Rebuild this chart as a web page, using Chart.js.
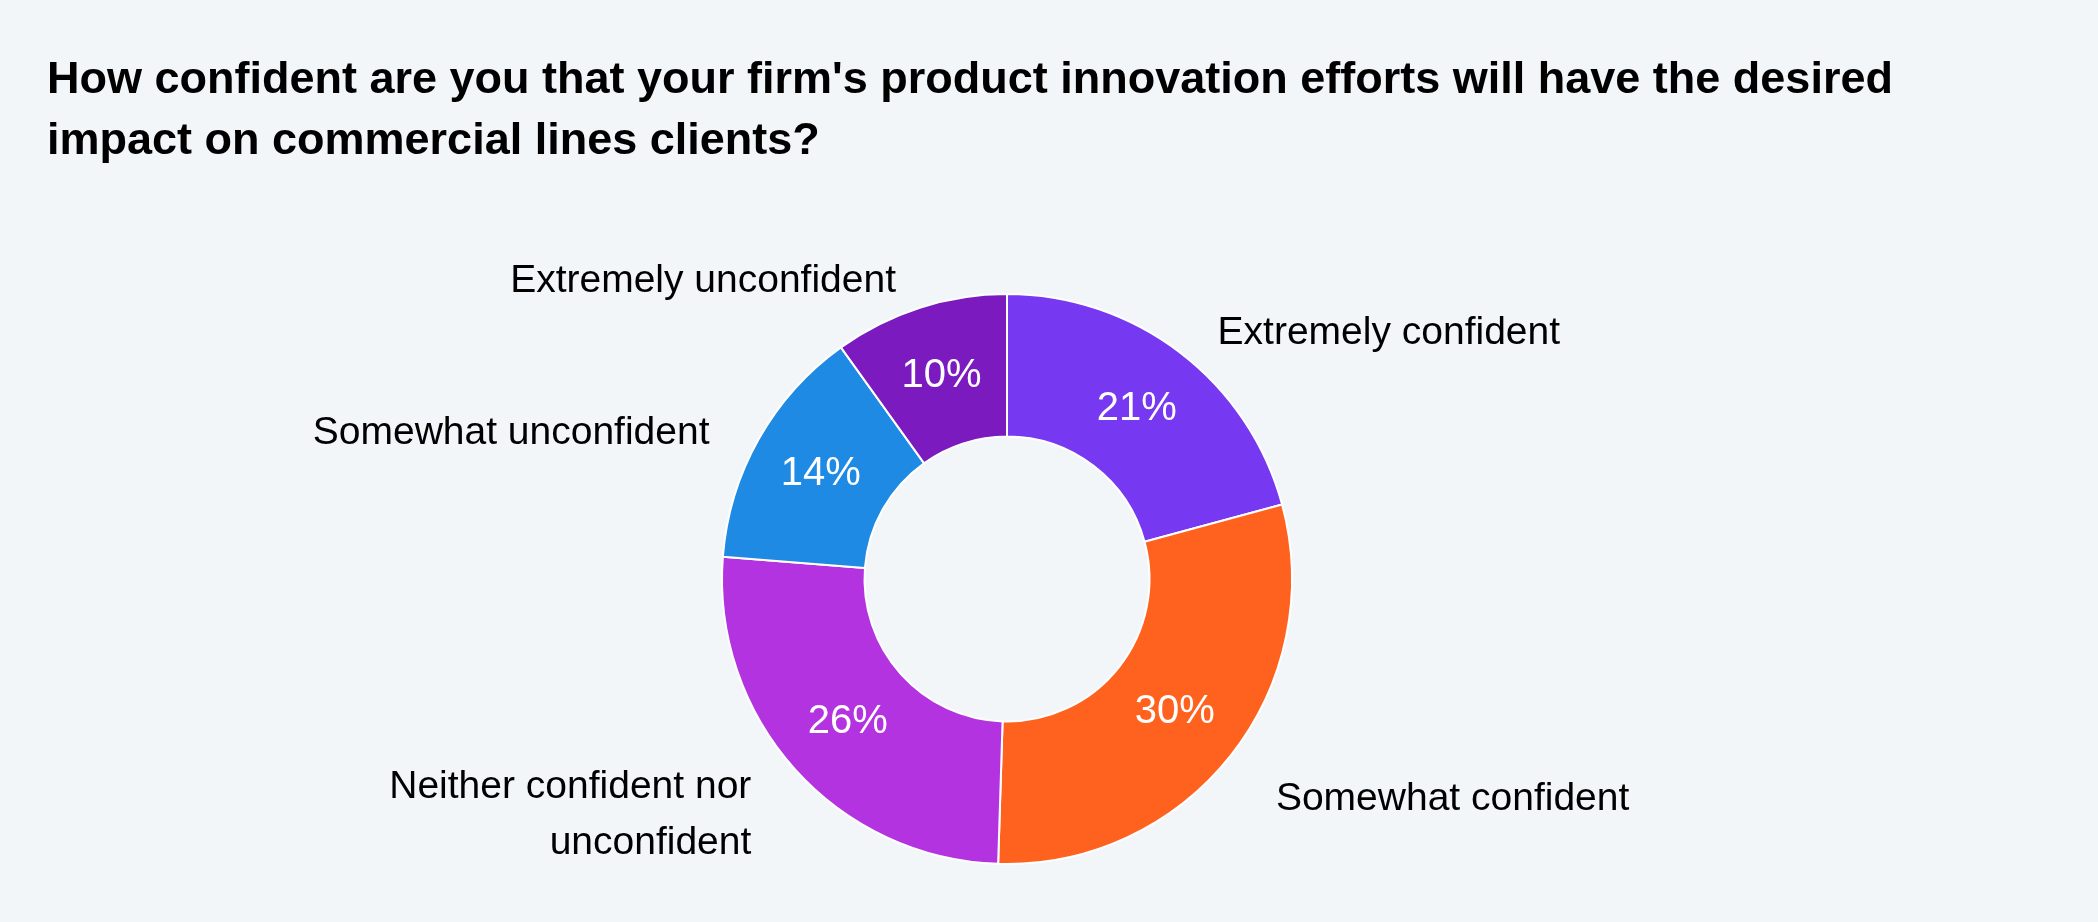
<!DOCTYPE html>
<html>
<head>
<meta charset="utf-8">
<script src="https://cdn.jsdelivr.net/npm/chart.js@4.4.1/dist/chart.umd.min.js"></script>
<style>
  html, body { margin: 0; padding: 0; background: #f2f6f9; }
  #wrap { width: 2098px; height: 922px; }
</style>
</head>
<body>
<div id="wrap"><canvas id="chart" width="2098" height="922"></canvas></div>
<script>
const titleLines = [
    "How confident are you that your firm's product innovation efforts will have the desired",
    "impact on commercial lines clients?"
];
const categories = [
    "Extremely confident",
    "Somewhat confident",
    ["Neither confident nor", "unconfident"],
    "Somewhat unconfident",
    "Extremely unconfident"
];
const shares = [21, 30, 26, 14, 10];
const sliceColors = ["#7638f0", "#ff621e", "#b433e0", "#1f8ae4", "#7a1abf"];

const FONT = "'Liberation Sans', Arial, sans-serif";

// draws the % inside each slice and the category name outside it
const sliceLabels = {
    id: "sliceLabels",
    afterDatasetsDraw(chart) {
        const ctx = chart.ctx;
        const arcs = chart.getDatasetMeta(0).data;
        ctx.save();
        arcs.forEach((arc, i) => {
            const p = arc.getProps(["x", "y", "startAngle", "endAngle", "innerRadius", "outerRadius"], true);
            const mid = (p.startAngle + p.endAngle) / 2;
            const cos = Math.cos(mid), sin = Math.sin(mid);

            // percentage
            const rMid = (p.innerRadius + p.outerRadius) / 2;
            ctx.fillStyle = "#ffffff";
            ctx.font = "40px " + FONT;
            ctx.textAlign = "center";
            ctx.textBaseline = "middle";
            ctx.fillText(shares[i] + "%", p.x + cos * rMid, p.y + sin * rMid);

            // category name
            const rOut = p.outerRadius + 45;
            const gap = 10;
            const right = cos >= 0;
            const ax = p.x + cos * rOut + (right ? gap : -gap);
            const ay = p.y + sin * rOut + 16;
            const lines = [].concat(categories[i]);
            const lh = 56;
            ctx.fillStyle = "#000000";
            ctx.font = "39px " + FONT;
            ctx.textAlign = right ? "left" : "right";
            lines.forEach((line, k) => {
                ctx.fillText(line, ax, ay + (k - (lines.length - 1) / 2) * lh);
            });
        });
        ctx.restore();
    }
};

new Chart(document.getElementById("chart"), {
    type: "doughnut",
    data: {
        labels: categories,
        datasets: [{
            data: shares,
            backgroundColor: sliceColors,
            borderColor: "#ffffff",
            borderWidth: 2
        }]
    },
    options: {
        responsive: false,
        animation: false,
        devicePixelRatio: 1,
        cutout: "50%",
        layout: { padding: { left: 47, right: 131, top: 0, bottom: 57 } },
        plugins: {
            legend: { display: false },
            tooltip: { enabled: false },
            title: {
                display: true,
                text: titleLines,
                align: "start",
                color: "#000000",
                font: { family: FONT, size: 45, weight: "bold", lineHeight: 61 / 45 },
                padding: { top: 50, bottom: 121 }
            }
        }
    },
    plugins: [sliceLabels]
});
</script>
</body>
</html>
